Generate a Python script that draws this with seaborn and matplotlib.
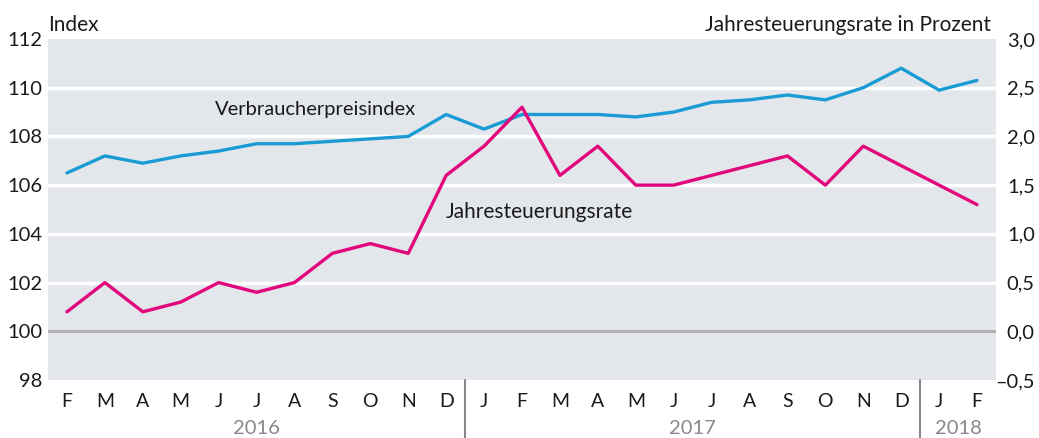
import numpy as np
import pandas as pd
import matplotlib.pyplot as plt
import seaborn as sns

# monthly values Feb 2016 - Feb 2018
months = ["F", "M", "A", "M", "J", "J", "A", "S", "O", "N", "D",
          "J", "F", "M", "A", "M", "J", "J", "A", "S", "O", "N", "D",
          "J", "F"]
vpi = [106.5, 107.2, 106.9, 107.2, 107.4, 107.7, 107.7, 107.8, 107.9, 108.0, 108.9,
       108.3, 108.9, 108.9, 108.9, 108.8, 109.0, 109.4, 109.5, 109.7, 109.5, 110.0, 110.8,
       109.9, 110.3]
rate = [0.2, 0.5, 0.2, 0.3, 0.5, 0.4, 0.5, 0.8, 0.9, 0.8, 1.6,
        1.9, 2.3, 1.6, 1.9, 1.5, 1.5, 1.6, 1.7, 1.8, 1.5, 1.9, 1.7,
        1.5, 1.3]
years = ["2016", "2017", "2018"]
year_start = [0, 11, 23]
year_end = [10, 22, 24]
left_ticks = [98, 100, 102, 104, 106, 108, 110, 112]
right_ticks = [-0.5, 0.0, 0.5, 1.0, 1.5, 2.0, 2.5, 3.0]

df = pd.DataFrame({"pos": np.arange(len(months)), "vpi": vpi, "rate": rate})

sns.set_style("white")
plt.rcParams["font.family"] = ["Lato", "DejaVu Sans"]

blue = "#1a9bd4"
pink = "#e2067c"
bg = "#e3e7eb"
txt = "#1a1a1a"

fig = plt.figure(figsize=(10.39, 4.38), dpi=100)
ax = fig.add_axes([0.0462, 0.1324, 0.9124, 0.7786])
ax.set_facecolor(bg)
for s in ax.spines.values():
    s.set_visible(False)

for t in left_ticks[1:-1]:
    ax.axhline(t, color="#b0b0b0" if t == 100 else "white", lw=2.2 if t == 100 else 2.5, zorder=1)

sns.lineplot(data=df, x="pos", y="vpi", ax=ax, color=blue, lw=2.4, zorder=3)
ax.set_xlim(-0.5, len(months) - 0.5)
ax.set_ylim(98, 112)
ax.set_yticks(left_ticks)
ax.set_yticklabels([str(t) for t in left_ticks], fontsize=14.5, color=txt)
ax.set_xticks(df["pos"])
ax.set_xticklabels(months, fontsize=14, color=txt)
ax.tick_params(length=0, pad=4)
ax.tick_params(axis="x", pad=9)
ax.set_xlabel("")
ax.set_ylabel("")

ax2 = ax.twinx()
for s in ax2.spines.values():
    s.set_visible(False)
sns.lineplot(data=df, x="pos", y="rate", ax=ax2, color=pink, lw=2.4, zorder=3)
ax2.set_ylim(-0.5, 3.0)
ax2.set_yticks(right_ticks)
ax2.set_yticklabels([f"{t:.1f}".replace(".", ",").replace("-", "\u2013") for t in right_ticks],
                    fontsize=14.5, color=txt)
ax2.tick_params(length=0, pad=28)
for lab in ax2.get_yticklabels():
    lab.set_horizontalalignment("right")
ax2.set_ylabel("")

# year separators and labels
tr = ax.get_xaxis_transform()
for s, e, y in zip(year_start, year_end, years):
    ax.text((s + e) / 2, -0.142, y, transform=tr, ha="center", va="center",
            fontsize=14.5, color="#888888")
    if s > 0:
        ax.plot([s - 0.5, s - 0.5], [0.0, -0.17], transform=tr, color="#888888",
                lw=1.5, clip_on=False)

ax.text(0, 1.012, "Index", transform=ax.transAxes, ha="left", va="bottom",
        fontsize=15, color=txt)
ax.text(0.995, 1.012, "Jahresteuerungsrate in Prozent", transform=ax.transAxes,
        ha="right", va="bottom", fontsize=15, color=txt)
ax.text(3.9, 109.1, "Verbraucherpreisindex", ha="left", va="center",
        fontsize=14.5, color=txt, zorder=4)
ax.text(10.0, 104.9, "Jahresteuerungsrate", ha="left", va="center",
        fontsize=15, color=txt, zorder=4)

fig.savefig("out.png", dpi=100)
